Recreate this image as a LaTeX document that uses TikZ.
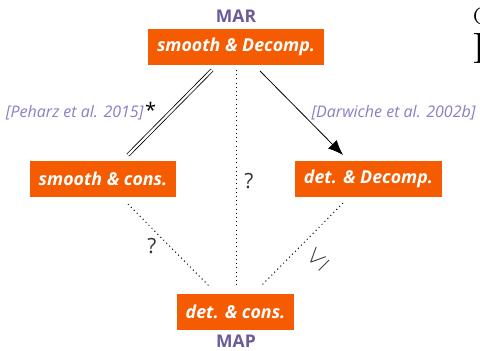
\documentclass[tikz,border=0pt]{standalone}
\usepackage{fontspec}
\setmainfont{Open Sans}
\newfontfamily\lmfont{Latin Modern Roman}
\usetikzlibrary{arrows.meta}
\definecolor{boxorange}{HTML}{F55B00}
\definecolor{marpurple}{HTML}{6B5B9C}
\definecolor{citepurple}{HTML}{8880C4}
\definecolor{qgray}{HTML}{333333}
\tikzset{
  cbox/.style={fill=boxorange, text=white, font=\fontsize{17.8}{19}\selectfont\bfseries\itshape, minimum height=36pt, inner sep=0pt, anchor=center},
  lvl/.style={text=marpurple, font=\fontsize{17.5}{19}\selectfont\bfseries},
  cite/.style={text=citepurple, font=\fontsize{16}{18}\selectfont\itshape},
  qmark/.style={text=qgray, font=\fontsize{21}{23}\selectfont},
  dotline/.style={black, line width=1pt, dash pattern=on 1pt off 3.2pt},
  plainline/.style={black, line width=0.8pt}
}
\begin{document}
\begin{tikzpicture}[x=1pt,y=1pt]
\useasboundingbox (0,0) rectangle (480,-351);
\fill[white] (0,0) rectangle (480,-351);
% boxes
\node[cbox, minimum width=176pt] (sd) at (236,-47) {smooth \& Decomp.};
\node[cbox, minimum width=146pt] (sc) at (103,-179) {smooth \& cons.};
\node[cbox, minimum width=147pt] (dd) at (368.5,-179) {det. \& Decomp.};
\node[cbox, minimum width=117pt] (dc) at (235.5,-312) {det. \& cons.};
% labels
\node[lvl] (mar) at (236,-16) {MAR};
\node[lvl] (map) at (236,-341) {MAP};
\node[cite, anchor=east] (c1) at (147,-113) {[Peharz et al. 2015]};
\node[font=\fontsize{20}{22}\selectfont, anchor=west, inner sep=0pt] (star) at ([xshift=-2pt,yshift=3pt]c1.east) {*};
\node[cite, anchor=west] (c2) at (308,-113) {[Darwiche et al. 2002b]};
% connector endpoints
\coordinate (a1) at (212,-70);
\coordinate (a2) at (128,-155);
\coordinate (b1) at (260,-71);
\coordinate (b2) at (343,-155);
\coordinate (v1) at (236,-70);
\coordinate (v2) at (236,-287);
\coordinate (l1) at (128,-204);
\coordinate (l2) at (210,-287);
\coordinate (r1) at (343,-203);
\coordinate (r2) at (261,-286);
\draw[black, double, double distance=2.2pt, line width=0.8pt] (a1) -- (a2);
\draw[plainline, -{Latex[length=15pt,width=12pt]}] (b1) -- (b2);
\draw[dotline] (v1) -- (v2);
\draw[dotline] (l1) -- (l2);
\draw[dotline] (r1) -- (r2);
\node[qmark] (q1) at (249,-181) {?};
\node[qmark] (q2) at (152,-246) {?};
\node[qmark, rotate=45, font=\fontsize{23}{25}\selectfont\lmfont] (le) at (318,-259) {$\le$};
% clipped glyphs at right edge
\begin{scope}
\clip (0,0) rectangle (480,-351);
\node[anchor=west, inner sep=0pt, font=\fontsize{24}{26}\selectfont\lmfont] (g1) at (473,-16) {C};
\node[anchor=west, inner sep=0pt, font=\fontsize{44}{46}\selectfont\lmfont] (g2) at (472,-48) {I};
\end{scope}
\end{tikzpicture}
\end{document}
